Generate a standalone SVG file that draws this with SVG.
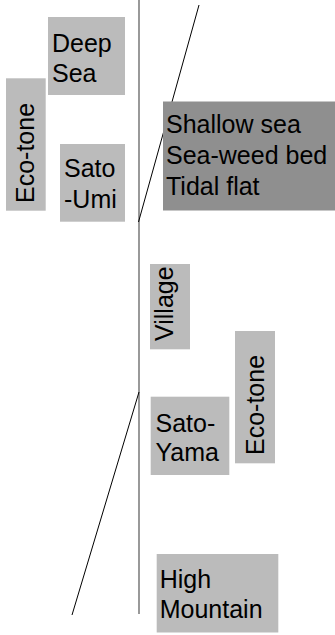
<svg xmlns="http://www.w3.org/2000/svg" width="335" height="635" viewBox="0 0 335 635">
<style>
.box{fill:#bbbbbb}
.dark{fill:#8f8f8f}
.t{font-family:"Liberation Sans",Arial,sans-serif;font-size:25px;fill:#000}
.axis{stroke:#808080;stroke-width:1.6;fill:none}
.diag{stroke:#000;stroke-width:1;fill:none}
</style>
<rect width="335" height="635" fill="#fff"/>
<g id="connectors">
<line class="axis" x1="139" y1="0" x2="139" y2="614"/>
<line class="diag" x1="199" y1="5" x2="138.5" y2="222"/>
<line class="diag" x1="139" y1="392" x2="72" y2="615"/>
</g>
<g id="deep-sea">
<rect class="box" x="48" y="17" width="77" height="78"/>
<text class="t" x="52" y="51.7">Deep</text>
<text class="t" x="52" y="81.7">Sea</text>
</g>
<g id="ecotone-left">
<rect class="box" x="6" y="78.3" width="39.7" height="132.4"/>
<text class="t" transform="translate(34.3,203) rotate(-90)">Eco-tone</text>
</g>
<g id="sato-umi">
<rect class="box" x="60" y="144" width="65" height="77.7"/>
<text class="t" x="64" y="176.7">Sato</text>
<text class="t" x="64" y="207.7">-Umi</text>
</g>
<g id="shallow-sea">
<rect class="dark" x="163" y="101.5" width="172" height="109"/>
<text class="t" x="166" y="133.3">Shallow sea</text>
<text class="t" x="166" y="163.8">Sea-weed bed</text>
<text class="t" x="166" y="194.5">Tidal flat</text>
</g>
<g id="village">
<rect class="box" x="150" y="264" width="40" height="85.3"/>
<text class="t" transform="translate(172.7,341) rotate(-90)">Village</text>
</g>
<g id="ecotone-right">
<rect class="box" x="235" y="331" width="40" height="132.3"/>
<text class="t" transform="translate(264.3,455) rotate(-90)">Eco-tone</text>
</g>
<g id="sato-yama">
<rect class="box" x="150.7" y="396.7" width="78.6" height="78.3"/>
<text class="t" x="155.5" y="431.7">Sato-</text>
<text class="t" x="155.5" y="460.7">Yama</text>
</g>
<g id="high-mountain">
<rect class="box" x="156.7" y="554" width="121.6" height="78.5"/>
<text class="t" x="159.7" y="587.7">High</text>
<text class="t" x="159.7" y="617.7">Mountain</text>
</g>
</svg>
